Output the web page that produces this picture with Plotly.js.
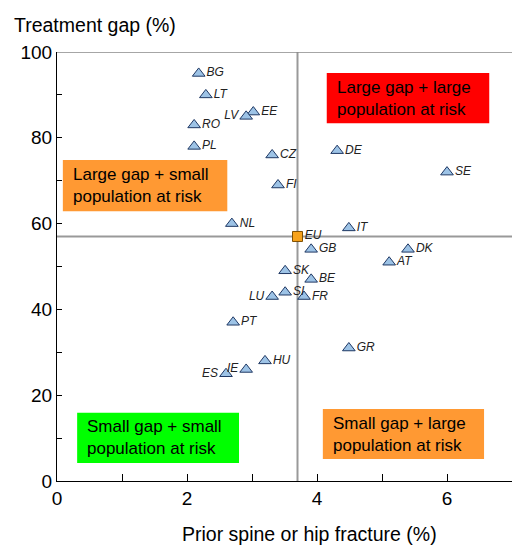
<!DOCTYPE html>
<html>
<head>
<meta charset="utf-8">
<script src="https://cdn.plot.ly/plotly-3.0.1.min.js"></script>
<style>html,body{margin:0;padding:0;background:#fff;}#chart{width:516px;height:547px;}</style>
</head>
<body>
<div id="chart"></div>
<script>
// Country data
const countries = ["BG","LT","EE","LV","RO","PL","CZ","FI","DE","SE","NL","IT","GB","DK","AT","SK","BE","LU","SI","FR","PT","GR","HU","IE","ES"];
const priorFracture = [2.18,2.29,3.02,2.91,2.11,2.11,3.31,3.40,4.31,6.00,2.69,4.49,3.91,5.40,5.11,3.51,3.91,3.31,3.51,3.80,2.71,4.49,3.20,2.91,2.60];
const treatmentGap = [95,90,86,85,83,78,76,69,77,72,60,59,54,54,51,49,47,43,44,43,37,31,28,26,25];
const labelSide = ["middle right","middle right","middle right","middle left","middle right","middle right","middle right","middle right","middle right","middle right","middle right","middle right","middle right","middle right","middle right","middle right","middle right","middle left","middle right","middle right","middle right","middle right","middle right","middle left","middle left"];

// EU average
const euLabel = ["EU"];
const euFracture = [3.7];
const euGap = [57];

// Axis ticks
const xTickVals = [0,1,2,3,4,5,6,7];
const xTickText = ["0","","2","","4","","6",""];
const yTickVals = [0,10,20,30,40,50,60,70,80,90,100];
const yTickText = ["0","","20","","40","","60","","80","","100"];

// Quadrant labels
const quadText = ["Large gap + large<br>population at risk","Large gap + small<br>population at risk","Small gap + small<br>population at risk","Small gap + large<br>population at risk"];
const quadColor = ["#FF0000","#FF9933","#00FF00","#FF9933"];
const quadBox = [[4.15,6.65,83.4,95.1],[0.09,2.62,62.9,74.8],[0.31,2.80,4.2,15.9],[4.09,6.57,5.1,16.8]];

const labelFont = {family:"Liberation Sans, Arial, sans-serif", size:12, color:"#222", style:"italic"};

const traces = [
  {
    type:"scatter", mode:"markers+text",
    x: priorFracture, y: treatmentGap, text: countries,
    textposition: labelSide,
    textfont: labelFont,
    marker:{symbol:"triangle-up", size:11, color:"#9DC3E6", line:{color:"#1F3864", width:1}},
    hoverinfo:"skip", cliponaxis:false
  },
  {
    type:"scatter", mode:"markers+text",
    x: euFracture, y: euGap, text: euLabel,
    textposition: ["middle right"],
    textfont: labelFont,
    marker:{symbol:"square", size:10, color:"#F7A21B", line:{color:"#7F4F00", width:1}},
    hoverinfo:"skip", cliponaxis:false
  }
];

const shapes = [
  {type:"line", xref:"x", yref:"y", x0:euFracture[0], x1:euFracture[0], y0:0, y1:100, line:{color:"#999999", width:2}, layer:"below"},
  {type:"line", xref:"x", yref:"y", x0:0, x1:7, y0:euGap[0], y1:euGap[0], line:{color:"#999999", width:2}, layer:"below"},
  {type:"line", xref:"x", yref:"y", x0:0, x1:7, y0:100, y1:100, line:{color:"#888888", width:1.5}, layer:"below"}
];
const annotations = [];
quadText.forEach((t,i)=>{
  const b = quadBox[i];
  shapes.push({type:"rect", xref:"x", yref:"y", x0:b[0], x1:b[1], y0:b[2], y1:b[3], fillcolor:quadColor[i], line:{width:0}, layer:"below"});
  annotations.push({xref:"x", yref:"y", x:b[0], y:(b[2]+b[3])/2, xanchor:"left", yanchor:"middle", xshift:8, text:t, showarrow:false, align:"left",
    font:{family:"Liberation Sans, Arial, sans-serif", size:17, color:"#000"}});
});
annotations.push({xref:"paper", yref:"paper", x:-0.1, y:1.0, xanchor:"left", yanchor:"bottom", yshift:14, text:"Treatment gap (%)", showarrow:false,
  font:{family:"Liberation Sans, Arial, sans-serif", size:19.5, color:"#000"}});
annotations.push({xref:"paper", yref:"paper", x:0.556, y:0, xanchor:"center", yanchor:"top", yshift:-40, text:"Prior spine or hip fracture (%)", showarrow:false,
  font:{family:"Liberation Sans, Arial, sans-serif", size:19.5, color:"#000"}});

const layout = {
  width:516, height:547,
  margin:{l:57, r:4, t:52, b:66},
  paper_bgcolor:"#fff", plot_bgcolor:"#fff",
  showlegend:false,
  font:{family:"Liberation Sans, Arial, sans-serif", size:19, color:"#000"},
  xaxis:{range:[0,7], tickvals:xTickVals, ticktext:xTickText, ticks:"inside", ticklen:7, tickcolor:"#000",
    showline:true, linecolor:"#000", linewidth:1, showgrid:false, zeroline:false, fixedrange:true,
    tickfont:{size:19}},
  yaxis:{range:[0,100], tickvals:yTickVals, ticktext:yTickText, ticks:"inside", ticklen:5, tickcolor:"#000",
    showline:true, linecolor:"#000", linewidth:1, showgrid:false, zeroline:false, fixedrange:true,
    tickfont:{size:19}},
  shapes:shapes,
  annotations:annotations
};

Plotly.newPlot("chart", traces, layout, {displayModeBar:false, staticPlot:true});
</script>
</body>
</html>
